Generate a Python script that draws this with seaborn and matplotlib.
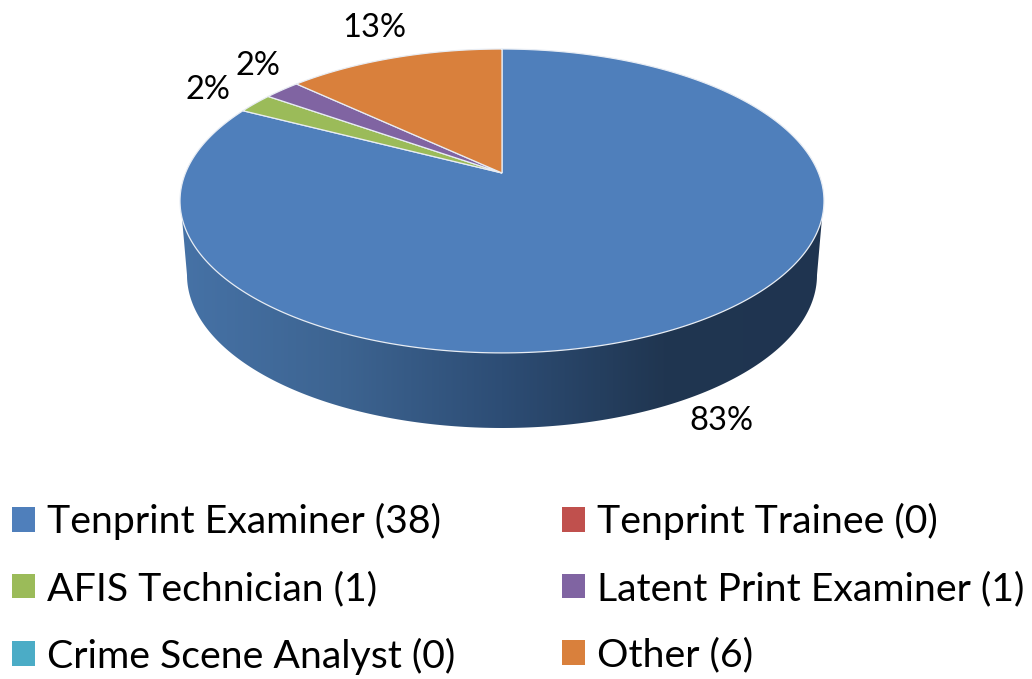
import numpy as np
import matplotlib
matplotlib.use("Agg")
import matplotlib.pyplot as plt
import seaborn as sns
from matplotlib.colors import LinearSegmentedColormap
from matplotlib.patches import Patch, Polygon

categories = ["Tenprint Examiner", "Tenprint Trainee", "AFIS Technician",
              "Latent Print Examiner", "Crime Scene Analyst", "Other"]
counts = [38, 0, 1, 1, 0, 6]
colors = ["#4f7fbb", "#c0504d", "#9bbb59", "#8064a2", "#4bacc6", "#d9803c"]
side_stops = ["#4672a6", "#3d6491", "#2d4d75", "#203651", "#1f3450"]

# text places in picture pixels, one per non-empty slice
label_xy = {0: (721, 421), 2: (208, 90), 3: (258, 66), 5: (374, 28)}
legend_order = [0, 2, 4, 1, 3, 5]

sns.set_theme(style="white")
plt.rcParams["font.family"] = ["Lato", "DejaVu Sans"]

# tilted pie: apex of the slices sits above the middle of the ellipse
cx, cy = 502, 173
tilt = 0.184
ax_x, ax_y = 316.5, 146.8


def project(theta_deg):
    t = np.radians(theta_deg)
    u, v = np.cos(t), np.sin(t)
    d = 1 + tilt * v
    return cx + ax_x * u / d, cy - ax_y * v / d


fig = plt.figure(figsize=(10.32, 6.79), dpi=100)
ax = fig.add_axes([0, 0, 1, 1])

wedges, _ = ax.pie(counts, startangle=90, counterclock=False, colors=colors)
ax.set_aspect("auto")
ax.set_xlim(0, 1032)
ax.set_ylim(679, 0)
ax.axis("off")

# side wall, gradient clipped to the outline
t_bot = np.radians(np.linspace(180, 360, 200))
bx = 502 + 315 * np.cos(t_bot)
by = 275 - 153 * np.sin(t_bot)
wall_xy = np.vstack([[182, 218], np.column_stack([bx, by]), [822, 218], [502, 150]])
wall = Polygon(wall_xy, closed=True, fc="none", ec="none", transform=ax.transData)
ax.add_patch(wall)
cmap = LinearSegmentedColormap.from_list("wall", side_stops)
grad = ax.imshow(np.linspace(0, 1, 256)[None, :], cmap=cmap, aspect="auto",
                 extent=(180, 824, 430, 150), zorder=1)
grad.set_clip_path(wall)
ax.set_aspect("auto")
ax.set_xlim(0, 1032)
ax.set_ylim(679, 0)

# top face, slices from pie's own angles
for i, w in enumerate(wedges):
    th1, th2 = w.theta1, w.theta2
    w.remove()
    if counts[i] == 0:
        continue
    th = np.linspace(th1, th2, 300)
    px, py = project(th)
    pts = np.vstack([[cx, cy], np.column_stack([px, py])])
    ax.add_patch(Polygon(pts, closed=True, fc=colors[i], ec="#e8edf4", lw=0.9, zorder=2))

total = sum(counts)
for i, xy in label_xy.items():
    ax.text(xy[0], xy[1], f"{round(100 * counts[i] / total)}%", ha="center", va="center",
            fontsize=23.5, color="black", zorder=3)

handles = [Patch(fc=colors[i], ec="none", label=f"{categories[i]} ({counts[i]})") for i in legend_order]
ax.legend(handles=handles, ncol=2, loc="upper left", frameon=False,
          bbox_to_anchor=(12 / 1032, 1 - 503 / 679), bbox_transform=fig.transFigure,
          fontsize=28.3, labelcolor="black", borderpad=0, borderaxespad=0,
          handlelength=0.585, handleheight=0.585, handletextpad=0.3,
          columnspacing=2.72, labelspacing=0.78)

fig.savefig("out.png", dpi=100)
